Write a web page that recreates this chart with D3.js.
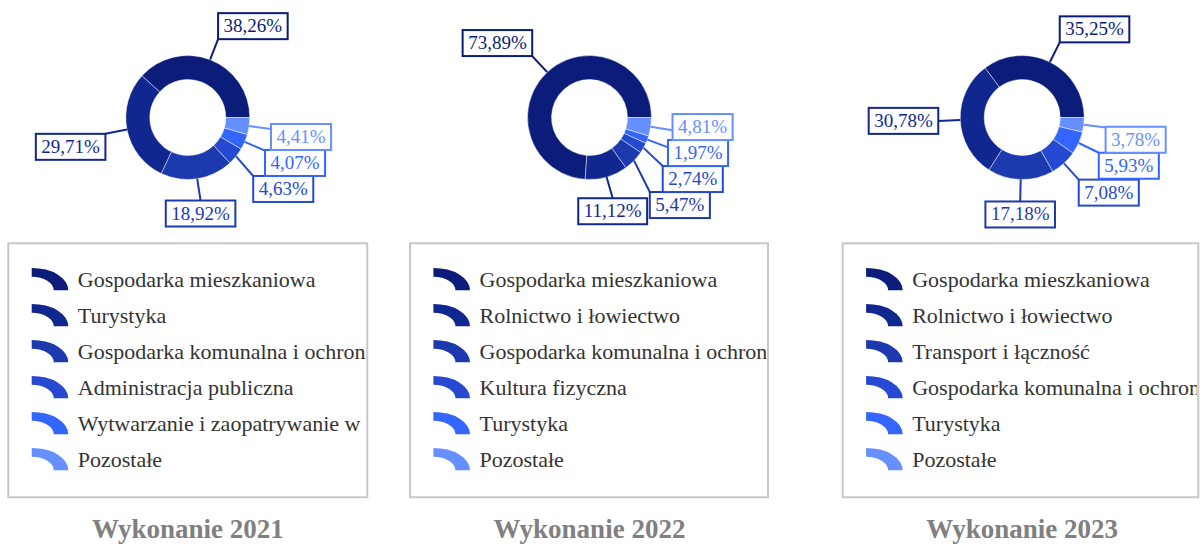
<!DOCTYPE html>
<html>
<head>
<meta charset="utf-8">
<script src="https://cdn.jsdelivr.net/npm/d3@7.9.0/dist/d3.min.js"></script>
<style>
  body { margin: 0; background: #fff; }
  svg { display: block; font-family: 'Liberation Serif', 'Times New Roman', serif; }
</style>
</head>
<body>
<svg id="chart" width="1200" height="548"></svg>
<script>
// data
const years = ['2021', '2022', '2023'];

const categories2021 = [
  'Gospodarka mieszkaniowa',
  'Turystyka',
  'Gospodarka komunalna i ochrona środowiska',
  'Administracja publiczna',
  'Wytwarzanie i zaopatrywanie w energię elektryczną, gaz i wodę',
  'Pozostałe',
];
const values2021 = [38.26, 29.71, 18.92, 4.63, 4.07, 4.41];

const categories2022 = [
  'Gospodarka mieszkaniowa',
  'Rolnictwo i łowiectwo',
  'Gospodarka komunalna i ochrona środowiska',
  'Kultura fizyczna',
  'Turystyka',
  'Pozostałe',
];
const values2022 = [73.89, 11.12, 5.47, 2.74, 1.97, 4.81];

const categories2023 = [
  'Gospodarka mieszkaniowa',
  'Rolnictwo i łowiectwo',
  'Transport i łączność',
  'Gospodarka komunalna i ochrona środowiska',
  'Turystyka',
  'Pozostałe',
];
const values2023 = [35.25, 30.78, 17.18, 7.08, 5.93, 3.78];

const colors = ['#0b1c7a', '#10278f', '#1c3aae', '#2649d2', '#3366ff', '#6690ff'];

const panels = [
  { year: years[0], categories: categories2021, values: values2021, left: 8.3, width: 359 },
  { year: years[1], categories: categories2022, values: values2022, left: 410, width: 358 },
  { year: years[2], categories: categories2023, values: values2023, left: 842.7, width: 355.6 },
];

const svg = d3.select('#chart');
const fmt = (v) => v.toFixed(2).replace('.', ',') + '%';

const outerR = 62;
const innerR = 38;
const labelR = 84;
const boxH = 26;
const padX = 5.5;

const pie = d3.pie()
  .sort(null)
  .value((d) => d)
  .startAngle(Math.PI / 2)
  .endAngle(Math.PI / 2 - 2 * Math.PI);

const arc = d3.arc().innerRadius(innerR).outerRadius(outerR);
const edgeArc = d3.arc().innerRadius(outerR).outerRadius(outerR);
const labelArc = d3.arc().innerRadius(labelR).outerRadius(labelR);
const iconArc = d3.arc()({ innerRadius: 0.6, outerRadius: 1, startAngle: 0, endAngle: Math.PI / 2 });

// push overlapping label boxes apart (1D clusters)
function spread(items) {
  items.sort((a, b) => a.y - b.y);
  const clusters = [];
  items.forEach((it) => {
    clusters.push({ items: [it], top: it.y });
    while (clusters.length > 1) {
      const b = clusters[clusters.length - 1];
      const a = clusters[clusters.length - 2];
      if (a.top + a.items.length * boxH > b.top) {
        const merged = a.items.concat(b.items);
        const top = d3.mean(merged, (m, i) => m.y - i * boxH);
        clusters.splice(-2, 2, { items: merged, top });
      } else break;
    }
  });
  clusters.forEach((c) => c.items.forEach((it, i) => (it.y = c.top + i * boxH)));
}

panels.forEach((p, pi) => {
  const cx = p.left + 179.5;
  const cy = 117.5;
  const g = svg.append('g').attr('transform', `translate(${cx},${cy})`);

  const arcs = pie(p.values);

  g.selectAll('path.slice')
    .data(arcs)
    .join('path')
    .attr('class', 'slice')
    .attr('d', arc)
    .attr('fill', (d, i) => colors[i])
    .attr('stroke', 'rgba(255,255,255,0.45)')
    .attr('stroke-width', 1);

  // measure label text
  const meas = g.append('text').style('font-size', '19px');
  const labels = arcs.map((d, i) => {
    meas.text(fmt(d.data));
    const w = meas.node().getComputedTextLength() + 2 * padX;
    const [lx, ly] = labelArc.centroid(d);
    const c = lx / labelR;
    const s = -ly / labelR;
    const ax = c > 0.3 ? 0 : c < -0.3 ? 1 : 0.5;
    const ay = s > 0.08 ? 1 : s < -0.08 ? 0 : 0.5;
    return {
      i, d, w, ax,
      anchor: [lx, ly],
      edge: edgeArc.centroid(d),
      x: lx - ax * w,
      y: ly - ay * boxH,
    };
  });
  meas.remove();

  d3.groups(labels, (l) => l.ax).forEach(([, items]) => spread(items));

  labels.forEach((l) => {
    const ex = Math.max(l.x, Math.min(l.x + l.w, l.anchor[0]));
    const ey = Math.max(l.y, Math.min(l.y + boxH, l.anchor[1]));
    g.append('line')
      .attr('x1', l.edge[0]).attr('y1', l.edge[1])
      .attr('x2', ex).attr('y2', ey)
      .attr('stroke', colors[l.i])
      .attr('stroke-width', 2);
  });

  const lg = g.selectAll('g.lbl')
    .data(labels)
    .join('g')
    .attr('class', 'lbl')
    .attr('transform', (l) => `translate(${l.x},${l.y})`);
  lg.append('rect')
    .attr('width', (l) => l.w)
    .attr('height', boxH)
    .attr('fill', '#fff')
    .attr('stroke', (l) => colors[l.i])
    .attr('stroke-width', 2);
  lg.append('text')
    .attr('x', (l) => l.w / 2)
    .attr('y', 19)
    .attr('text-anchor', 'middle')
    .style('font-size', '19px')
    .attr('fill', (l) => colors[l.i])
    .text((l) => fmt(l.d.data));

  // legend
  const boxTop = 243.3;
  const boxHgt = 254;
  svg.append('clipPath')
    .attr('id', 'clip' + pi)
    .append('rect')
    .attr('x', p.left)
    .attr('y', boxTop)
    .attr('width', p.width - 1.5)
    .attr('height', boxHgt);

  svg.append('rect')
    .attr('x', p.left)
    .attr('y', boxTop)
    .attr('width', p.width)
    .attr('height', boxHgt)
    .attr('fill', '#fff')
    .attr('stroke', '#c8c8c8')
    .attr('stroke-width', 2);

  const rows = svg.append('g').attr('clip-path', `url(#clip${pi})`)
    .selectAll('g')
    .data(p.categories)
    .join('g')
    .attr('transform', (d, i) => `translate(${p.left},${286.7 + 36 * i})`);

  rows.append('path')
    .attr('d', iconArc)
    .attr('transform', 'translate(23.4,3.5) scale(36.6,22.3)')
    .attr('fill', (d, i) => colors[i]);

  rows.append('text')
    .attr('x', 69.5)
    .attr('y', 0)
    .style('font-size', '22px')
    .attr('fill', '#333')
    .text((d) => d);

  svg.append('text')
    .attr('x', cx)
    .attr('y', 538)
    .attr('text-anchor', 'middle')
    .style('font-size', '27px')
    .style('font-weight', 'bold')
    .attr('fill', '#808080')
    .text('Wykonanie ' + p.year);
});
</script>
</body>
</html>
